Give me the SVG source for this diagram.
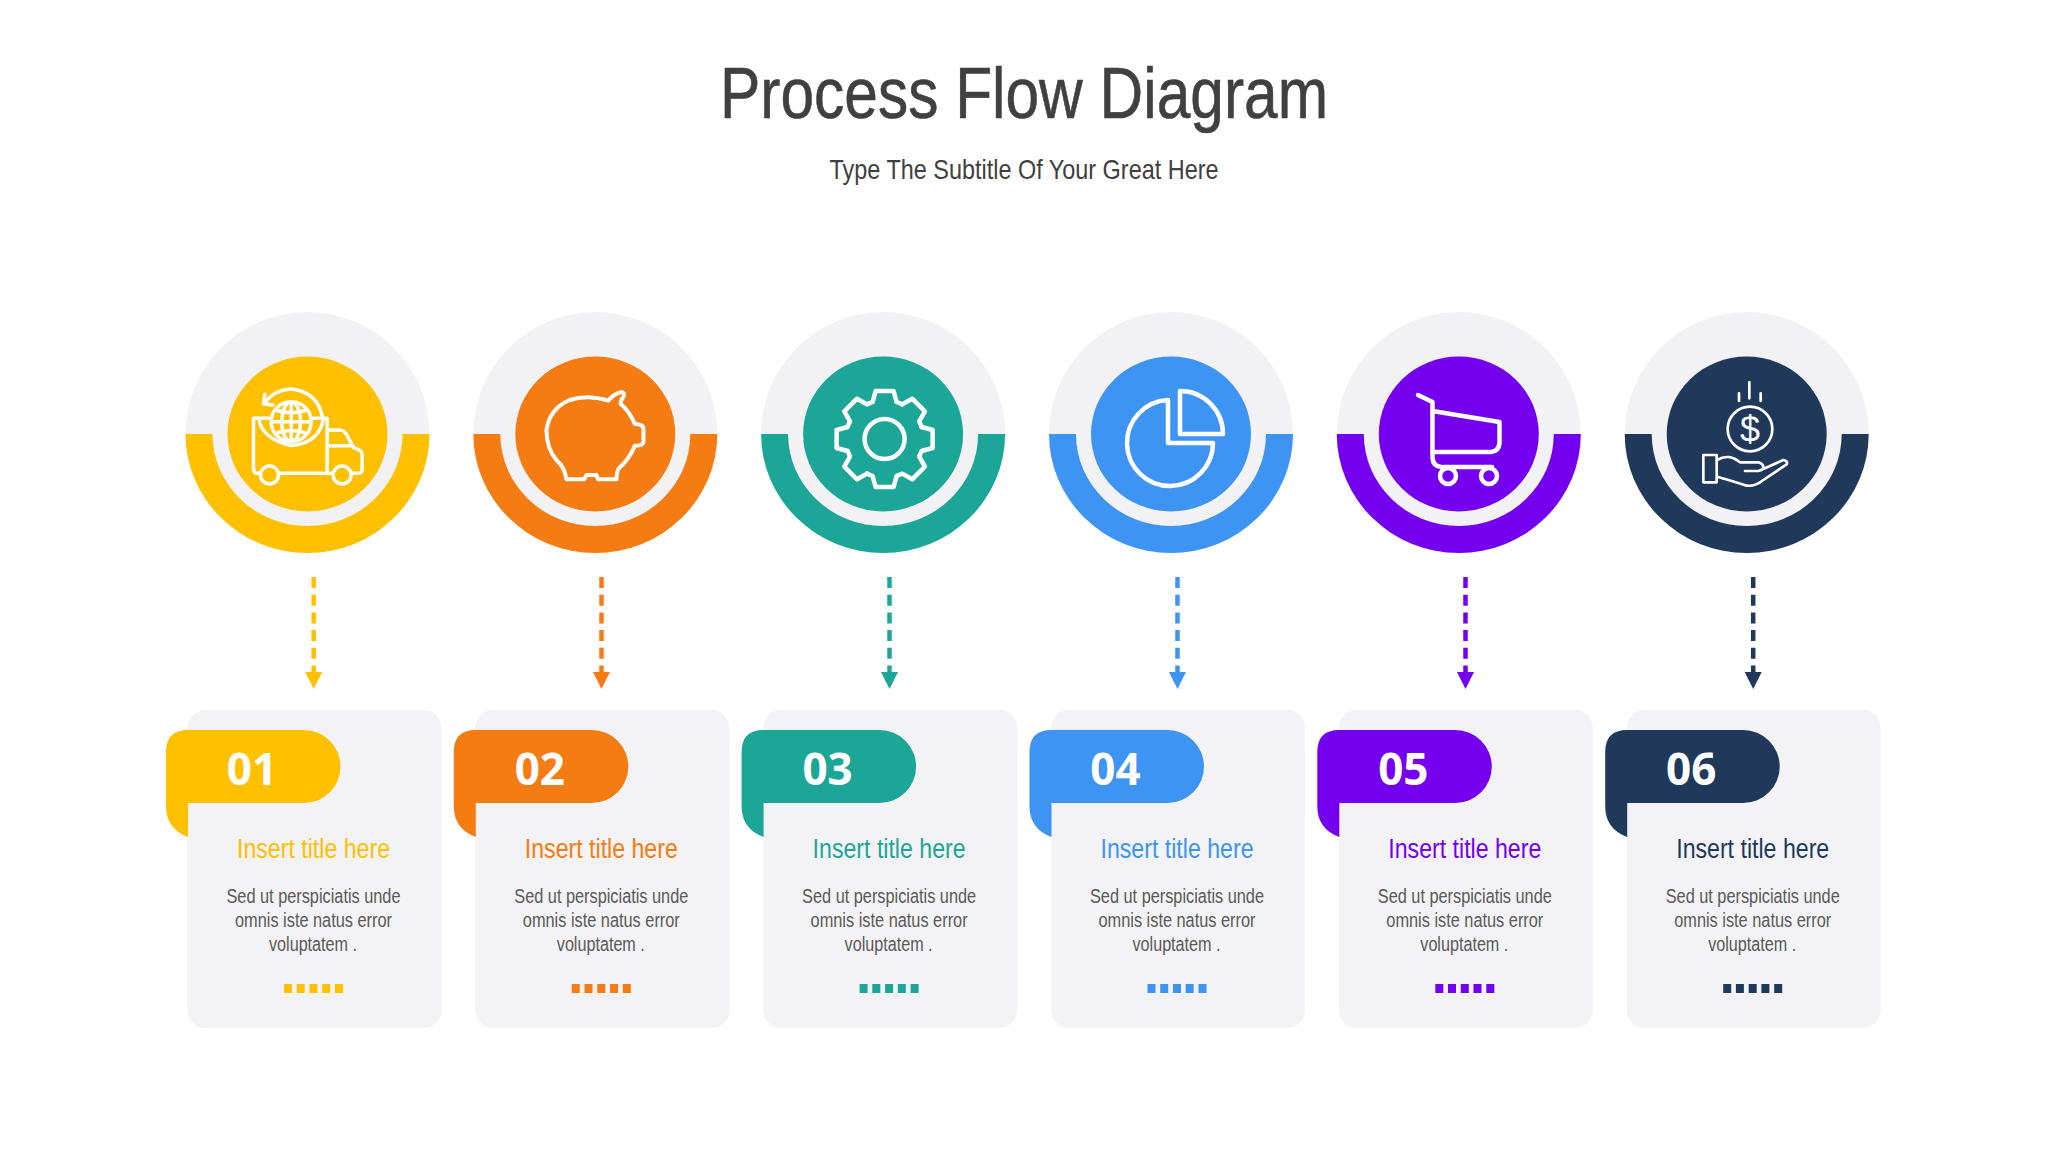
<svg xmlns="http://www.w3.org/2000/svg" xmlns:xlink="http://www.w3.org/1999/xlink" width="2048" height="1152" viewBox="0 0 2048 1152">
<style>
text{font-family:"Liberation Sans",Arial,sans-serif;text-anchor:middle}
.h1{font-size:73px;fill:#404040;stroke:#404040;stroke-width:.6px}
.h2{font-size:28px;fill:#404040}
.num{font-family:"Open Sans","Noto Sans",sans-serif;font-weight:700;font-size:44px;fill:#fff}
.tt{font-size:27px}
.bd{font-size:20px;fill:#595959}
.gray{fill:#f2f2f4}
.card{fill:#f3f3f5}
.ic{fill:none;stroke:#fff;stroke-linejoin:round;stroke-linecap:round}
.c1{fill:#ffc000}.c2{fill:#f57c13}.c3{fill:#1ca697}.c4{fill:#3e94f3}.c5{fill:#7500ef}.c6{fill:#20395b}
.arrow{fill:none;stroke-width:4.5;stroke-dasharray:11 6.7}
</style>
<defs>
<path id="halo" d="M-122 434A122 122 0 0 1 122 434H95A95 92 0 0 1-95 434Z"/>
<path id="under" d="M-95 434A95 92 0 0 0 95 434Z"/>
<path id="band" d="M-122 434A122 119 0 0 0 122 434H95A95 92 0 0 1-95 434Z"/>
<ellipse id="core" cx="0" cy="434" rx="80" ry="77.5"/>
<rect id="panel" x="187.5" y="710" width="254" height="318" rx="18"/>
<path id="tag" d="M166 752Q166 730 188 730H304A36.500 36.500 0 0 1 304 803H188V837Q166 829 166 806Z"/>
<g id="dots"><rect x="284" y="984" width="8" height="9"/><rect x="296.700" y="984" width="8" height="9"/><rect x="309.500" y="984" width="8" height="9"/><rect x="322.200" y="984" width="8" height="9"/><rect x="335" y="984" width="8" height="9"/></g>
<marker id="h1" viewBox="0 -9 17 18" refX="0" refY="0" markerWidth="17" markerHeight="18" markerUnits="userSpaceOnUse" orient="auto"><path class="c1" d="M0-8.500L17 0L0 8.500Z"/></marker>
<marker id="h2" viewBox="0 -9 17 18" refX="0" refY="0" markerWidth="17" markerHeight="18" markerUnits="userSpaceOnUse" orient="auto"><path class="c2" d="M0-8.500L17 0L0 8.500Z"/></marker>
<marker id="h3" viewBox="0 -9 17 18" refX="0" refY="0" markerWidth="17" markerHeight="18" markerUnits="userSpaceOnUse" orient="auto"><path class="c3" d="M0-8.500L17 0L0 8.500Z"/></marker>
<marker id="h4" viewBox="0 -9 17 18" refX="0" refY="0" markerWidth="17" markerHeight="18" markerUnits="userSpaceOnUse" orient="auto"><path class="c4" d="M0-8.500L17 0L0 8.500Z"/></marker>
<marker id="h5" viewBox="0 -9 17 18" refX="0" refY="0" markerWidth="17" markerHeight="18" markerUnits="userSpaceOnUse" orient="auto"><path class="c5" d="M0-8.500L17 0L0 8.500Z"/></marker>
<marker id="h6" viewBox="0 -9 17 18" refX="0" refY="0" markerWidth="17" markerHeight="18" markerUnits="userSpaceOnUse" orient="auto"><path class="c6" d="M0-8.500L17 0L0 8.500Z"/></marker>
<path id="sector" d="M-12-37L-9-48H9L12-37L17.680-34.650"/>
</defs>
<rect width="2048" height="1152" fill="#fff"/>
<g id="heading">
<text class="h1" x="1024" y="118" textLength="608" lengthAdjust="spacingAndGlyphs">Process Flow Diagram</text>
<text class="h2" x="1024" y="179" textLength="389" lengthAdjust="spacingAndGlyphs">Type The Subtitle Of Your Great Here</text>
</g>
<g id="connectors">
<path class="arrow" stroke="#ffc000" marker-end="url(#h1)" d="M313.700 577V672"/>
<path class="arrow" stroke="#f57c13" marker-end="url(#h2)" d="M601.500 577V672"/>
<path class="arrow" stroke="#1ca697" marker-end="url(#h3)" d="M889.500 577V672"/>
<path class="arrow" stroke="#3e94f3" marker-end="url(#h4)" d="M1177.500 577V672"/>
<path class="arrow" stroke="#7500ef" marker-end="url(#h5)" d="M1465.500 577V672"/>
<path class="arrow" stroke="#20395b" marker-end="url(#h6)" d="M1753.200 577V672"/>
</g>
<g id="step-1">
<g transform="translate(307.500 0)"><use href="#halo" class="gray"/><use href="#under" class="gray"/><use href="#band" class="c1"/><use href="#core" class="c1"/></g>
<g class="ic" stroke-width="10.500" transform="translate(239.500 375) scale(.3333)">
<path d="M88 130H42V283Q42 295 55 295H60M120 295H278M263 130V295M263 130H218"/>
<path d="M58 130Q65 190 155 212Q240 205 252 130M75 85A100 85 0 0 1 155 42Q235 50 250 130"/>
<path d="M76 58L72 86L100 90"/>
<circle cx="155" cy="140" r="60"/><ellipse cx="155" cy="140" rx="28" ry="60"/><path d="M155 80V200M97 140H213M108 105Q155 122 202 105M108 175Q155 158 202 175"/>
<circle cx="90" cy="300" r="27"/><circle cx="308" cy="300" r="27"/>
<path d="M265 165H300Q315 165 325 185L342 218Q368 225 368 240V282Q368 295 355 295H338M265 212H340"/>
</g>
<use href="#panel" class="card"/><use href="#tag" class="c1"/>
<text class="num" x="252" y="785">01</text>
<text class="tt c1" x="313.500" y="858" textLength="153" lengthAdjust="spacingAndGlyphs">Insert title here</text>
<text class="bd" x="313.500" y="903" textLength="174" lengthAdjust="spacingAndGlyphs">Sed ut perspiciatis unde</text>
<text class="bd" x="313.500" y="927" textLength="157" lengthAdjust="spacingAndGlyphs">omnis iste natus error</text>
<text class="bd" x="313" y="951" textLength="88" lengthAdjust="spacingAndGlyphs">voluptatem .</text>
<use href="#dots" class="c1"/>
</g>
<g id="step-2" transform="translate(287.800 0)">
<g transform="translate(307.500 0)"><use href="#halo" class="gray"/><use href="#under" class="gray"/><use href="#band" class="c2"/><use href="#core" class="c2"/></g>
<g class="ic" stroke-width="12" transform="translate(247 380) scale(.3333)"><path d="M220 62Q240 40 260 36Q272 38 266 50Q256 62 258 72Q285 95 300 132Q328 132 326 150V185Q326 197 300 197Q285 235 250 268Q245 280 245 298H190L185 285H155L148 298H95Q90 262 65 240Q35 205 35 150Q45 85 105 60Q160 42 220 62Z"/></g>
<use href="#panel" class="card"/><use href="#tag" class="c2"/>
<text class="num" x="252" y="785">02</text>
<text class="tt c2" x="313.500" y="858" textLength="153" lengthAdjust="spacingAndGlyphs">Insert title here</text>
<text class="bd" x="313.500" y="903" textLength="174" lengthAdjust="spacingAndGlyphs">Sed ut perspiciatis unde</text>
<text class="bd" x="313.500" y="927" textLength="157" lengthAdjust="spacingAndGlyphs">omnis iste natus error</text>
<text class="bd" x="313" y="951" textLength="88" lengthAdjust="spacingAndGlyphs">voluptatem .</text>
<use href="#dots" class="c2"/>
</g>
<g id="step-3" transform="translate(575.600 0)">
<g transform="translate(307.500 0)"><use href="#halo" class="gray"/><use href="#under" class="gray"/><use href="#band" class="c3"/><use href="#core" class="c3"/></g>
<g class="ic" stroke-width="4.500" transform="translate(309 439)">
<circle r="20"/>
<use href="#sector"/><use href="#sector" transform="rotate(45)"/><use href="#sector" transform="rotate(90)"/><use href="#sector" transform="rotate(135)"/><use href="#sector" transform="rotate(180)"/><use href="#sector" transform="rotate(225)"/><use href="#sector" transform="rotate(270)"/><use href="#sector" transform="rotate(315)"/>
</g>
<use href="#panel" class="card"/><use href="#tag" class="c3"/>
<text class="num" x="252" y="785">03</text>
<text class="tt c3" x="313.500" y="858" textLength="153" lengthAdjust="spacingAndGlyphs">Insert title here</text>
<text class="bd" x="313.500" y="903" textLength="174" lengthAdjust="spacingAndGlyphs">Sed ut perspiciatis unde</text>
<text class="bd" x="313.500" y="927" textLength="157" lengthAdjust="spacingAndGlyphs">omnis iste natus error</text>
<text class="bd" x="313" y="951" textLength="88" lengthAdjust="spacingAndGlyphs">voluptatem .</text>
<use href="#dots" class="c3"/>
</g>
<g id="step-4" transform="translate(863.500 0)">
<g transform="translate(307.500 0)"><use href="#halo" class="gray"/><use href="#under" class="gray"/><use href="#band" class="c4"/><use href="#core" class="c4"/></g>
<g class="ic" stroke-width="4.500" transform="translate(-863.500 0)">
<path d="M1168 400A43 43 0 1 0 1213 443H1168Z"/>
<path d="M1180 391A43 43 0 0 1 1223 434H1180Z"/>
</g>
<use href="#panel" class="card"/><use href="#tag" class="c4"/>
<text class="num" x="252" y="785">04</text>
<text class="tt c4" x="313.500" y="858" textLength="153" lengthAdjust="spacingAndGlyphs">Insert title here</text>
<text class="bd" x="313.500" y="903" textLength="174" lengthAdjust="spacingAndGlyphs">Sed ut perspiciatis unde</text>
<text class="bd" x="313.500" y="927" textLength="157" lengthAdjust="spacingAndGlyphs">omnis iste natus error</text>
<text class="bd" x="313" y="951" textLength="88" lengthAdjust="spacingAndGlyphs">voluptatem .</text>
<use href="#dots" class="c4"/>
</g>
<g id="step-5" transform="translate(1151.300 0)">
<g transform="translate(307.500 0)"><use href="#halo" class="gray"/><use href="#under" class="gray"/><use href="#band" class="c5"/><use href="#core" class="c5"/></g>
<g class="ic" stroke-width="4.500" transform="translate(-1151.300 0)">
<path d="M1418 395L1432.500 402V458Q1433 466 1441 467H1492"/>
<path d="M1432.500 411L1499.500 422V443Q1499 451 1491 452H1432.500"/>
<circle cx="1448" cy="476" r="8"/><circle cx="1489" cy="476" r="8"/>
</g>
<use href="#panel" class="card"/><use href="#tag" class="c5"/>
<text class="num" x="252" y="785">05</text>
<text class="tt c5" x="313.500" y="858" textLength="153" lengthAdjust="spacingAndGlyphs">Insert title here</text>
<text class="bd" x="313.500" y="903" textLength="174" lengthAdjust="spacingAndGlyphs">Sed ut perspiciatis unde</text>
<text class="bd" x="313.500" y="927" textLength="157" lengthAdjust="spacingAndGlyphs">omnis iste natus error</text>
<text class="bd" x="313" y="951" textLength="88" lengthAdjust="spacingAndGlyphs">voluptatem .</text>
<use href="#dots" class="c5"/>
</g>
<g id="step-6" transform="translate(1439.200 0)">
<g transform="translate(307.500 0)"><use href="#halo" class="gray"/><use href="#under" class="gray"/><use href="#band" class="c6"/><use href="#core" class="c6"/></g>
<g class="ic" stroke-width="8" transform="translate(240.800 375) scale(.3333)">
<path d="M208 22V70M177 55V78M242 55V78"/>
<circle cx="210" cy="162" r="67"/>
<rect x="70" y="240" width="40" height="82"/>
<path d="M112 255C135 240 160 245 180 262H235C255 268 255 285 235 288H195M238 287L310 255Q325 258 320 268L250 315Q225 335 200 332Q170 322 112 305"/>
</g>
<text x="310.800" y="441.500" font-size="36" fill="#fff">$</text>
<use href="#panel" class="card"/><use href="#tag" class="c6"/>
<text class="num" x="252" y="785">06</text>
<text class="tt c6" x="313.500" y="858" textLength="153" lengthAdjust="spacingAndGlyphs">Insert title here</text>
<text class="bd" x="313.500" y="903" textLength="174" lengthAdjust="spacingAndGlyphs">Sed ut perspiciatis unde</text>
<text class="bd" x="313.500" y="927" textLength="157" lengthAdjust="spacingAndGlyphs">omnis iste natus error</text>
<text class="bd" x="313" y="951" textLength="88" lengthAdjust="spacingAndGlyphs">voluptatem .</text>
<use href="#dots" class="c6"/>
</g>
</svg>
